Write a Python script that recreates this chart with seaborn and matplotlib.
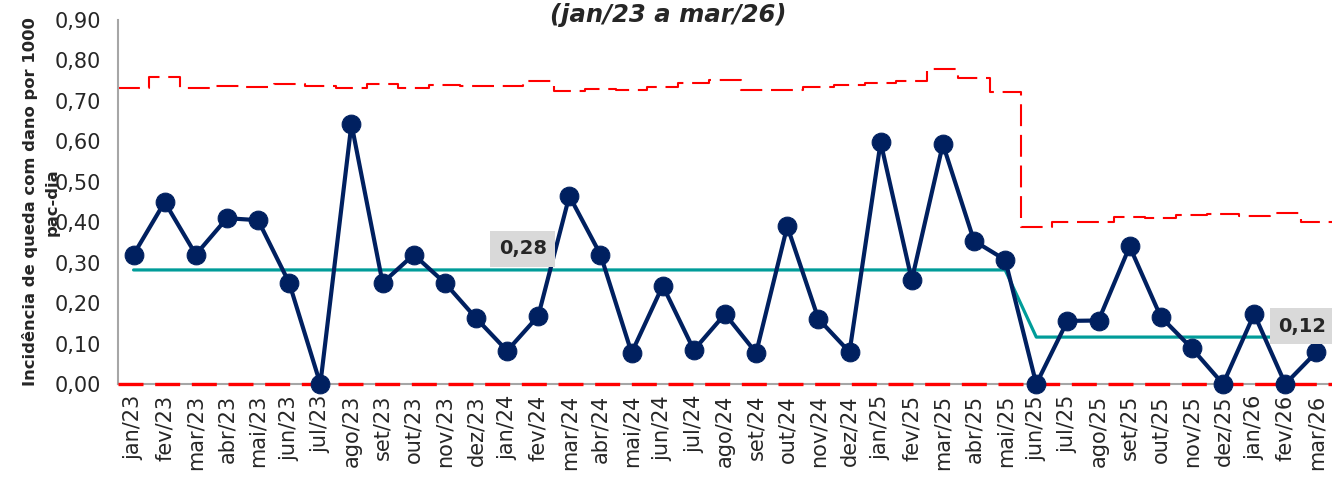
import numpy as np
import pandas as pd
import matplotlib
matplotlib.use("Agg")
import matplotlib.pyplot as plt
import seaborn as sns

# months jan/23 .. mar/26
meses = ["jan/23", "fev/23", "mar/23", "abr/23", "mai/23", "jun/23", "jul/23", "ago/23",
         "set/23", "out/23", "nov/23", "dez/23", "jan/24", "fev/24", "mar/24", "abr/24",
         "mai/24", "jun/24", "jul/24", "ago/24", "set/24", "out/24", "nov/24", "dez/24",
         "jan/25", "fev/25", "mar/25", "abr/25", "mai/25", "jun/25", "jul/25", "ago/25",
         "set/25", "out/25", "nov/25", "dez/25", "jan/26", "fev/26", "mar/26"]

incidencia = [0.32, 0.45, 0.32, 0.41, 0.405, 0.25, 0.00, 0.643, 0.25, 0.32, 0.25, 0.163,
              0.082, 0.168, 0.465, 0.32, 0.077, 0.243, 0.084, 0.173, 0.077, 0.39, 0.161,
              0.079, 0.598, 0.257, 0.593, 0.354, 0.307, 0.00, 0.156, 0.157, 0.34, 0.166,
              0.088, 0.00, 0.173, 0.00, 0.079]

lsc = [0.733, 0.760, 0.731, 0.737, 0.734, 0.741, 0.737, 0.733, 0.741, 0.731, 0.739, 0.737,
       0.737, 0.749, 0.725, 0.730, 0.727, 0.734, 0.744, 0.752, 0.727, 0.727, 0.734, 0.739,
       0.745, 0.748, 0.780, 0.756, 0.723, 0.388, 0.400, 0.401, 0.414, 0.411, 0.418, 0.420,
       0.416, 0.424, 0.401]

lic = [0.0] * len(meses)

# center line: 0,28 until mai/25, 0,12 from jun/25 to fev/26
media = [0.282] * 29 + [0.116] * 9
media_labels = ["0,28", "0,12"]

NAVY = "#002060"
TEAL = "#009C99"
RED = "#FF0000"
GRAY = "#A6A6A6"

sns.set_style("white")
plt.rcParams["font.family"] = ["DejaVu Sans"]

fig = plt.figure(figsize=(13.32, 4.82), dpi=100)
ax = fig.add_axes([118 / 1332, 1 - 384 / 482, 1 - 118 / 1332, (384 - 20) / 482])

x = np.arange(len(meses))
df = pd.DataFrame({"x": x, "valor": incidencia})

# upper control limit as steps over each month
edges = np.append(x - 0.5, x[-1] + 0.5)
ax.step(edges, lsc + [lsc[-1]], where="post", color=RED, lw=1.5,
        dashes=(10.5, 4.2), zorder=2)
# lower control limit
ax.plot(edges, lic + [lic[-1]], color=RED, lw=2.4, dashes=(7.5, 3.5), zorder=3,
        clip_on=False)

# center line
ax.plot(x[:len(media)], media, color=TEAL, lw=2.3, zorder=3)

sns.lineplot(data=df, x="x", y="valor", ax=ax, color=NAVY, lw=3, marker="o",
             markersize=13.5, markeredgecolor=NAVY, sort=False, zorder=4, clip_on=False)

box = dict(boxstyle="square,pad=0.45", fc="#D9D9D9", ec="none")
ax.text(12.5, 0.334, media_labels[0], ha="center", va="center", fontsize=14,
        fontweight="bold", bbox=box, zorder=5)
ax.text(37.55, 0.143, media_labels[1], ha="center", va="center", fontsize=14,
        fontweight="bold", bbox=box, zorder=5)

ax.set_xlim(-0.5, len(meses) - 0.5)
ax.set_ylim(0, 0.9)
yt = np.round(np.arange(0, 0.91, 0.1), 2)
ax.set_yticks(yt)
ax.set_yticklabels([f"{v:.2f}".replace(".", ",") for v in yt], fontsize=15)
ax.set_xticks(x)
ax.set_xticklabels(meses, rotation=90, fontsize=15)
ax.set_xticks(edges, minor=True)
ax.tick_params(axis="x", which="major", length=0, pad=8)
ax.tick_params(axis="x", which="minor", length=8, width=1.2, color=GRAY)
ax.tick_params(axis="y", length=9, width=1.2, color=GRAY, pad=3)

for s in ["top", "right"]:
    ax.spines[s].set_visible(False)
for s in ["left", "bottom"]:
    ax.spines[s].set_color(GRAY)
    ax.spines[s].set_linewidth(1.5)

ax.set_xlabel("")
ax.set_ylabel("")
fig.text(30 / 1332, 1 - 202 / 482, "Incidência de queda com dano por 1000",
         rotation=90, ha="center", va="center", fontsize=11.8, fontweight="bold")
fig.text(52 / 1332, 1 - 202 / 482, "pac-dia", rotation=90, ha="center",
         va="center", fontsize=11.8, fontweight="bold")

fig.text(668 / 1332, 1 - 15 / 482, "(jan/23 a mar/26)", ha="center", va="center",
         fontsize=17.5, fontweight="bold", fontstyle="italic")

fig.savefig("out.png", dpi=100)
